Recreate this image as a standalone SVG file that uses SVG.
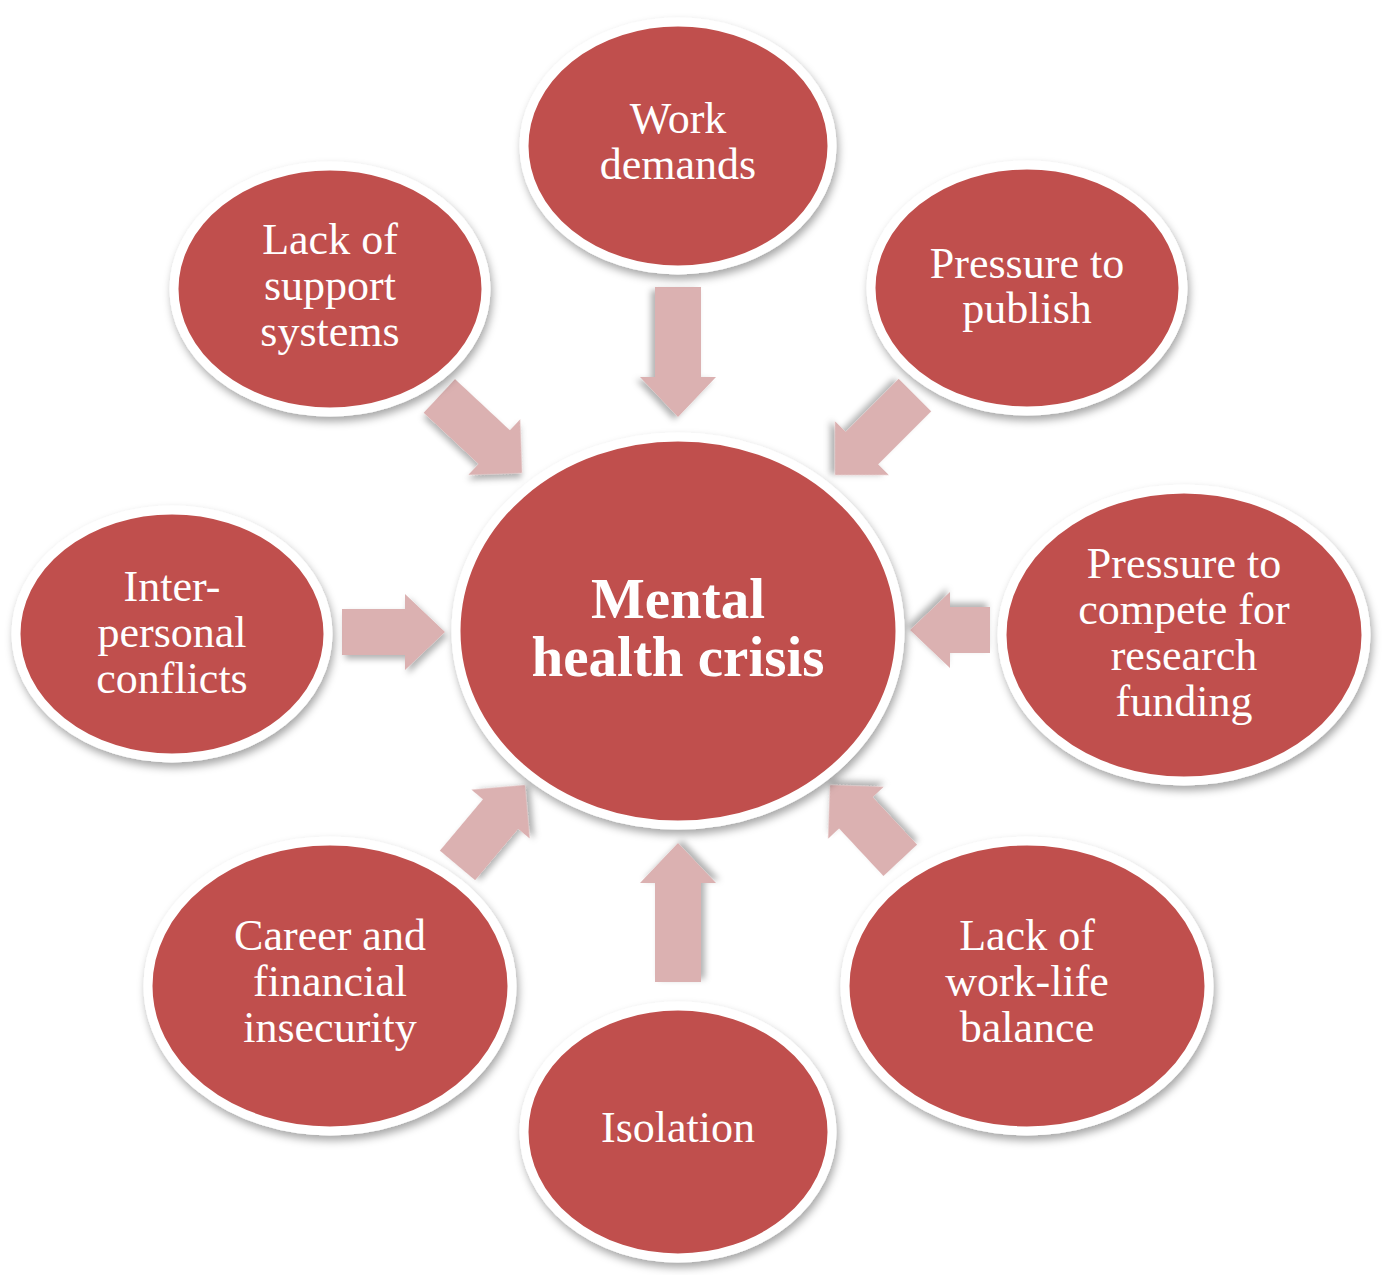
<svg xmlns="http://www.w3.org/2000/svg" width="1384" height="1275" viewBox="0 0 1384 1275">
<defs>
<filter id="sh" x="-20%" y="-20%" width="140%" height="140%">
<feDropShadow dx="2" dy="5" stdDeviation="4" flood-color="#000" flood-opacity="0.35"/>
</filter>
<filter id="ash" x="-20%" y="-20%" width="140%" height="140%">
<feDropShadow dx="3" dy="4" stdDeviation="3" flood-color="#000" flood-opacity="0.3"/>
</filter>
<style>
.node{fill:#C0504D;stroke:#FFFFFF;stroke-width:9;filter:url(#sh)}
.lbl{font-family:"Liberation Serif","Times New Roman",serif;font-size:44px;fill:#FFFFFF;text-anchor:middle}
.big{font-family:"Liberation Serif","Times New Roman",serif;font-size:57px;font-weight:bold;fill:#FFFFFF;text-anchor:middle}
.arr{fill:#DBB1B1;filter:url(#ash)}
</style>
</defs>
<rect width="1384" height="1275" fill="#FFFFFF"/>
<g id="connectors">
<path class="arr" transform="translate(678,417) rotate(90)" d="M0,0 L-40,-38 L-40,-23 L-130,-23 L-130,23 L-40,23 L-40,38 Z"/>
<path class="arr" transform="translate(678,843) rotate(-90)" d="M0,0 L-40,-38 L-40,-23 L-139,-23 L-139,23 L-40,23 L-40,38 Z"/>
<path class="arr" transform="translate(445,632) rotate(0)" d="M0,0 L-40,-38 L-40,-23 L-103,-23 L-103,23 L-40,23 L-40,38 Z"/>
<path class="arr" transform="translate(910,630) rotate(180)" d="M0,0 L-40,-38 L-40,-23 L-80,-23 L-80,23 L-40,23 L-40,38 Z"/>
<path class="arr" transform="translate(522,473) rotate(43)" d="M0,0 L-38,-38 L-38,-23 L-113,-23 L-113,23 L-38,23 L-38,38 Z"/>
<path class="arr" transform="translate(835,475) rotate(135)" d="M0,0 L-38,-38 L-38,-23 L-113,-23 L-113,23 L-38,23 L-38,38 Z"/>
<path class="arr" transform="translate(525,785) rotate(-50)" d="M0,0 L-38,-38 L-38,-23 L-105,-23 L-105,23 L-38,23 L-38,38 Z"/>
<path class="arr" transform="translate(830,785) rotate(-133)" d="M0,0 L-38,-38 L-38,-23 L-103,-23 L-103,23 L-38,23 L-38,38 Z"/>
</g>
<g id="node-center">
<ellipse class="node" cx="678" cy="631" rx="222" ry="194"/>
<text class="big" x="678" y="618">Mental</text>
<text class="big" x="678" y="676">health crisis</text>
</g>
<g id="node-work-demands">
<ellipse class="node" cx="678" cy="146" rx="154" ry="124"/>
<text class="lbl" x="678" y="133">Work</text>
<text class="lbl" x="678" y="179">demands</text>
</g>
<g id="node-lack-support">
<ellipse class="node" cx="330" cy="289" rx="156" ry="123"/>
<text class="lbl" x="330" y="254">Lack of</text>
<text class="lbl" x="330" y="300">support</text>
<text class="lbl" x="330" y="346">systems</text>
</g>
<g id="node-pressure-publish">
<ellipse class="node" cx="1027" cy="288" rx="156" ry="123"/>
<text class="lbl" x="1027" y="278">Pressure to</text>
<text class="lbl" x="1027" y="323">publish</text>
</g>
<g id="node-interpersonal">
<ellipse class="node" cx="172" cy="634" rx="156" ry="124"/>
<text class="lbl" x="172" y="601">Inter-</text>
<text class="lbl" x="172" y="647">personal</text>
<text class="lbl" x="172" y="693">conflicts</text>
</g>
<g id="node-pressure-compete">
<ellipse class="node" cx="1184" cy="635" rx="182" ry="146"/>
<text class="lbl" x="1184" y="578">Pressure to</text>
<text class="lbl" x="1184" y="624">compete for</text>
<text class="lbl" x="1184" y="670">research</text>
<text class="lbl" x="1184" y="716">funding</text>
</g>
<g id="node-career">
<ellipse class="node" cx="330" cy="986" rx="182" ry="145"/>
<text class="lbl" x="330" y="950">Career and</text>
<text class="lbl" x="330" y="996">financial</text>
<text class="lbl" x="330" y="1042">insecurity</text>
</g>
<g id="node-worklife">
<ellipse class="node" cx="1027" cy="986" rx="182" ry="145"/>
<text class="lbl" x="1027" y="950">Lack of</text>
<text class="lbl" x="1027" y="996">work-life</text>
<text class="lbl" x="1027" y="1042">balance</text>
</g>
<g id="node-isolation">
<ellipse class="node" cx="678" cy="1132" rx="154" ry="126"/>
<text class="lbl" x="678" y="1142">Isolation</text>
</g>
</svg>
